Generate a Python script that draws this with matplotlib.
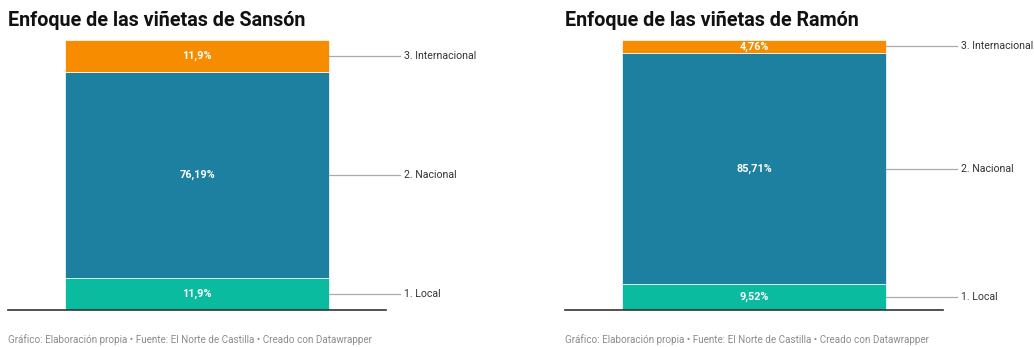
import matplotlib.pyplot as plt

plt.rcParams['font.family'] = ['Roboto', 'DejaVu Sans']

# --- Données ---
categories = ["1. Local", "2. Nacional", "3. Internacional"]
sanson = [11.9, 76.19, 11.9]
ramon = [9.52, 85.71, 4.76]
etiquettes_sanson = ["11,9%", "76,19%", "11,9%"]
etiquettes_ramon = ["9,52%", "85,71%", "4,76%"]
titres = ["Enfoque de las viñetas de Sansón", "Enfoque de las viñetas de Ramón"]
couleurs = ["#0abb9f", "#1d80a1", "#f88c00"]
source = "Gráfico: Elaboración propia • Fuente: El Norte de Castilla • Creado con Datawrapper"

W, H = 1034, 347
fig = plt.figure(figsize=(W / 100, H / 100), dpi=100)


def barre_empilee(x0, valeurs, etiquettes, titre):
    # axe en coordonnées pixel : largeur 378 px, hauteur 270 px
    ax = fig.add_axes([x0 / W, (H - 310) / H, 378 / W, 270 / H])
    ax.set_xlim(0, 378)
    ax.set_ylim(0, sum(valeurs))
    ax.axis("off")
    bas = 0
    for val, lab, cat, col in zip(valeurs, etiquettes, categories, couleurs):
        ax.bar(189, val, width=264, bottom=bas, color=col, edgecolor="white", linewidth=0.5)
        milieu = bas + val / 2
        ax.text(189, milieu, lab, ha="center", va="center", color="white",
                fontsize=7.8, fontweight="bold")
        ax.plot([321, 392], [milieu, milieu], color="#aaaaaa", lw=0.9, clip_on=False)
        ax.text(396, milieu, cat, ha="left", va="center", fontsize=7.6,
                color="#333333", clip_on=False)
        bas += val
    ax.plot([0, 378], [0, 0], color="#333333", lw=1.2, clip_on=False)
    fig.text(x0 / W, 1 - 20 / H, titre, ha="left", va="center", fontsize=14.2,
             fontweight="bold", color="#111111")
    fig.text(x0 / W, 1 - 340 / H, source, ha="left", va="center", fontsize=7.1,
             color="#8c8c8c")


barre_empilee(8, sanson, etiquettes_sanson, titres[0])
barre_empilee(565, ramon, etiquettes_ramon, titres[1])

fig.savefig("out.png", dpi=100, facecolor="white")
